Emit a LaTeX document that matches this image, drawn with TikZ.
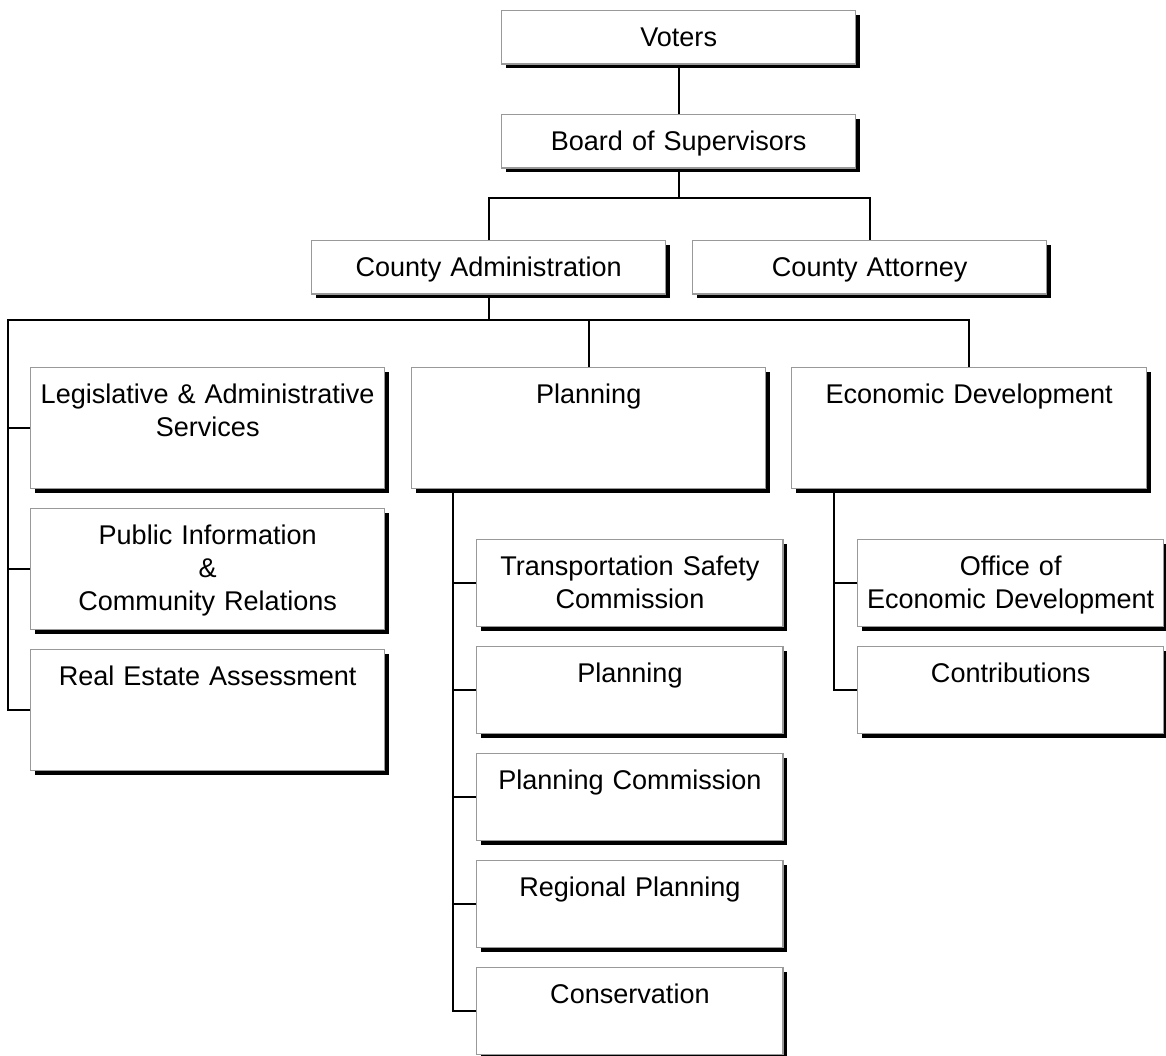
\documentclass[tikz,border=0pt]{standalone}
\usepackage{fontspec}
\setmainfont{Liberation Sans}
\usetikzlibrary{calc,positioning,shadows}
\tikzset{
  unit/.style={
    rectangle,
    draw=black!40, line width=0.8pt,
    fill=white,
    drop shadow={shadow xshift=0.08cm, shadow yshift=-0.08cm, fill=black, opacity=1},
    anchor=north west,
    inner sep=0pt,
    text width=7.08cm,
    align=center,
    font=\fontsize{15.4}{18.8}\selectfont,
    text height=0.72cm},
  unitshort/.style={unit, text depth=0.35cm},
  unittall/.style={unit, text depth=1.70cm},
  unitsub/.style={unit, text width=6.13cm, text depth=1.02cm},
  link/.style={draw, line width=1pt},
}

\begin{document}
\begin{tikzpicture}[x=0.02cm, y=-0.02cm]
    \useasboundingbox (0,0) rectangle (1166,1055);

    % top of the chart
    \node [unitshort] (voters) at (501,10) {Voters};
    \node [unitshort] (board) at (501,114) {Board of Supervisors};
    \node [unitshort] (admin) at (311,240) {County Administration};
    \node [unitshort] (attorney) at (692,240) {County Attorney};

    % departments
    \node [unittall] (legis) at (30,367) {Legislative \& Administrative\\Services};
    \node [unittall] (pubinfo) at (30,508) {Public Information\\\&\\Community Relations};
    \node [unittall] (realestate) at (30,649) {Real Estate Assessment};
    \node [unittall] (planning) at (411,367) {Planning};
    \node [unittall, text width=7.1cm] (econ) at (791,367) {Economic Development};

    % planning units
    \node [unitsub] (tsc) at (476,539) {Transportation Safety\\Commission};
    \node [unitsub] (plan) at (476,646) {Planning};
    \node [unitsub] (plancom) at (476,753) {Planning Commission};
    \node [unitsub] (regional) at (476,860) {Regional Planning};
    \node [unitsub] (conserv) at (476,967) {Conservation};

    % economic development units
    \node [unitsub, text width=6.12cm] (office) at (857,539) {Office of\\Economic Development};
    \node [unitsub, text width=6.12cm] (contrib) at (857,646) {Contributions};

    \coordinate (bus1) at ($(board.south)+(0,29)$);
    \coordinate (bus2) at (8,320);
    \coordinate (pspine) at ($(planning.south west)+(42,0)$);
    \coordinate (espine) at ($(econ.south west)+(43,0)$);

    \draw[link] (voters) -- (board);
    \draw[link] (board.south) -- (bus1);
    \draw[link] (admin.north) |- (bus1) -| (attorney.north);
    \draw[link] (admin.south) -- (admin.south |- bus2);
    \draw[link] (realestate.west) -| (bus2) -| (econ.north);
    \draw[link] (planning.north) -- (planning.north |- bus2);
    \foreach \n in {legis,pubinfo}
        \draw[link] (\n.west) -- (\n.west -| bus2);
    \draw[link] (pspine) |- (conserv.west);
    \foreach \n in {tsc,plan,plancom,regional}
        \draw[link] (\n.west) -- (\n.west -| pspine);
    \draw[link] (espine) |- (contrib.west);
    \draw[link] (office.west) -- (office.west -| espine);

\end{tikzpicture}
\end{document}
